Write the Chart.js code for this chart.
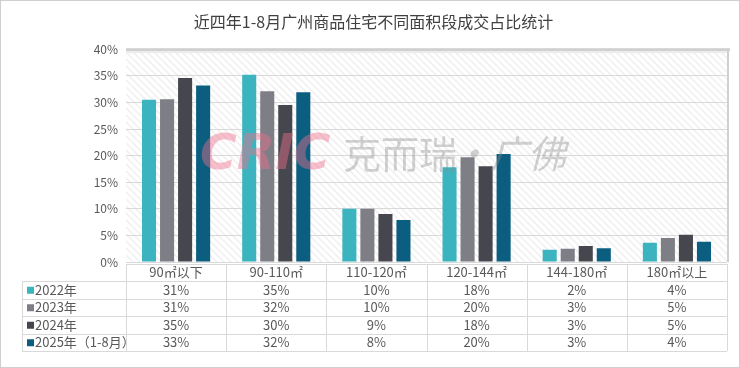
<!DOCTYPE html>
<html>
<head>
<meta charset="utf-8">
<script src="https://cdn.jsdelivr.net/npm/chart.js@4.4.1/dist/chart.umd.min.js"></script>
<style>
    html, body { margin: 0; padding: 0; background: #fff; }
    #wrap { width: 740px; height: 368px; }
</style>
</head>
<body>
<div id="wrap"><canvas id="chart1" width="740" height="368"></canvas></div>
<script>
const categories = ['90㎡以下', '90-110㎡', '110-120㎡', '120-144㎡', '144-180㎡', '180㎡以上'];
const seriesNames = ['2022年', '2023年', '2024年', '2025年（1-8月）'];
const s2022 = [30.5, 35.2, 10.0, 17.8, 2.3, 3.6];
const s2023 = [30.6, 32.1, 10.0, 19.7, 2.5, 4.5];
const s2024 = [34.6, 29.5, 9.0, 18.0, 3.0, 5.1];
const s2025 = [33.2, 31.9, 7.9, 20.3, 2.6, 3.8];
const yTicks = [0, 5, 10, 15, 20, 25, 30, 35, 40];
const colors = ['#3bb4c0', '#7e7e86', '#46464e', '#0b5e80'];

const FONT = '"Noto Sans CJK SC", "Noto Sans", sans-serif';
const TEXT = '#595959';
const LINE = '#d9d9d9';

// hatched background + frame of the plot area
const plotBack = {
    id: 'plotBack',
    beforeDraw(chart) {
        const {ctx, chartArea: a} = chart;
        ctx.save();
        ctx.fillStyle = '#fff';
        ctx.fillRect(0, 0, chart.width, chart.height);
        ctx.beginPath();
        ctx.rect(a.left, a.top, a.right - a.left, a.bottom - a.top);
        ctx.clip();
        ctx.strokeStyle = '#efefef';
        ctx.lineWidth = 1.5;
        const h = a.bottom - a.top;
        for (let x = a.left - h; x < a.right + 10; x += 7) {
            ctx.beginPath();
            ctx.moveTo(x, a.top);
            ctx.lineTo(x + h, a.bottom);
            ctx.stroke();
        }
        ctx.restore();
    },
    afterDatasetsDraw(chart) {
        const {ctx, chartArea: a} = chart;
        ctx.save();
        // top shadow line
        ctx.fillStyle = '#d0d0d0';
        ctx.fillRect(a.left, a.top - 1, a.right - a.left + 3, 3);
        ctx.fillStyle = '#ececec';
        ctx.fillRect(a.left, a.top + 2, a.right - a.left, 2);
        // right border
        ctx.fillStyle = '#d0d0d0';
        ctx.fillRect(a.right, a.top, 2, a.bottom - a.top);
        ctx.restore();
    }
};

// watermark on top of the bars
const watermark = {
    id: 'watermark',
    afterDatasetsDraw(chart) {
        const ctx = chart.ctx;
        ctx.save();
        ctx.textBaseline = 'middle';
        ctx.textAlign = 'left';
        ctx.font = 'italic bold 50px "DejaVu Sans", sans-serif';
        ctx.fillStyle = 'rgba(238, 110, 140, 0.45)';
        ctx.fillText('CRIC', 200, 156);
        ctx.font = '38px ' + FONT;
        ctx.fillStyle = 'rgba(140, 140, 140, 0.4)';
        ctx.fillText('克而瑞', 343, 154);
        ctx.font = 'italic 38px ' + FONT;
        ctx.fillText('·广佛', 452, 154);
        ctx.restore();
    }
};

// data table under the plot
const dataTable = {
    id: 'dataTable',
    afterDraw(chart) {
        const {ctx, chartArea: a, scales: {x}} = chart;
        const rows = [s2022, s2023, s2024, s2025];
        const left = 22;
        const top = a.bottom + 2;
        const headH = 17;
        const rowH = 17.5;
        const bottom = top + headH + rowH * rows.length;
        const step = (a.right - a.left) / categories.length;
        ctx.save();
        ctx.strokeStyle = LINE;
        ctx.lineWidth = 1;
        // horizontal lines
        ctx.beginPath();
        ctx.moveTo(a.left, top + 0.5);
        ctx.lineTo(a.right, top + 0.5);
        for (let r = 0; r <= rows.length; r++) {
            const y = Math.round(top + headH + rowH * r) + 0.5;
            ctx.moveTo(left, y);
            ctx.lineTo(a.right, y);
        }
        // vertical lines
        for (let c = 0; c <= categories.length; c++) {
            const xx = Math.round(a.left + step * c) + 0.5;
            ctx.moveTo(xx, top);
            ctx.lineTo(xx, bottom);
        }
        ctx.moveTo(left + 0.5, top + headH);
        ctx.lineTo(left + 0.5, bottom);
        ctx.stroke();

        ctx.font = '13px ' + FONT;
        ctx.fillStyle = TEXT;
        ctx.textBaseline = 'middle';
        ctx.textAlign = 'center';
        categories.forEach((c, i) => {
            ctx.fillText(c, x.getPixelForValue(i), top + headH / 2);
        });
        rows.forEach((vals, r) => {
            const cy = top + headH + rowH * r + rowH / 2;
            ctx.textAlign = 'center';
            ctx.fillStyle = TEXT;
            vals.forEach((v, i) => {
                ctx.fillText(Math.round(v) + '%', x.getPixelForValue(i), cy);
            });
            ctx.fillStyle = colors[r];
            ctx.fillRect(left + 5, cy - 3, 7, 7);
            ctx.fillStyle = TEXT;
            ctx.textAlign = 'left';
            ctx.fillText(seriesNames[r], left + 13, cy);
        });
        // outer frame of the picture
        ctx.strokeStyle = '#cfcfcf';
        ctx.strokeRect(0.5, 0.5, chart.width - 1, chart.height - 1);
        ctx.restore();
    }
};

const chart1 = document.getElementById('chart1');
new Chart(chart1, {
    type: 'bar',
    data: {
        labels: categories,
        datasets: [s2022, s2023, s2024, s2025].map((d, i) => ({
            label: seriesNames[i],
            data: d,
            backgroundColor: colors[i],
            categoryPercentage: 0.72,
            barPercentage: 0.78
        }))
    },
    options: {
        responsive: false,
        animation: false,
        layout: {
            padding: {left: 20, right: 13, top: 0, bottom: 106}
        },
        plugins: {
            legend: {display: false},
            tooltip: {enabled: false},
            title: {
                display: true,
                text: '近四年1-8月广州商品住宅不同面积段成交占比统计',
                color: '#404040',
                font: {family: FONT, size: 16, weight: 'normal'},
                padding: {top: 12, bottom: 18}
            }
        },
        scales: {
            x: {
                ticks: {display: false},
                grid: {display: false},
                border: {display: false},
                afterFit: s => { s.height = 0; }
            },
            y: {
                min: 0,
                max: 40,
                afterBuildTicks: s => { s.ticks = yTicks.map(v => ({value: v})); },
                afterFit: s => { s.width = 106; },
                ticks: {
                    color: TEXT,
                    padding: 8,
                    font: {family: FONT, size: 12},
                    callback: v => v + '%'
                },
                grid: {color: LINE, drawTicks: false},
                border: {display: false}
            }
        }
    },
    plugins: [plotBack, watermark, dataTable]
});
</script>
</body>
</html>
